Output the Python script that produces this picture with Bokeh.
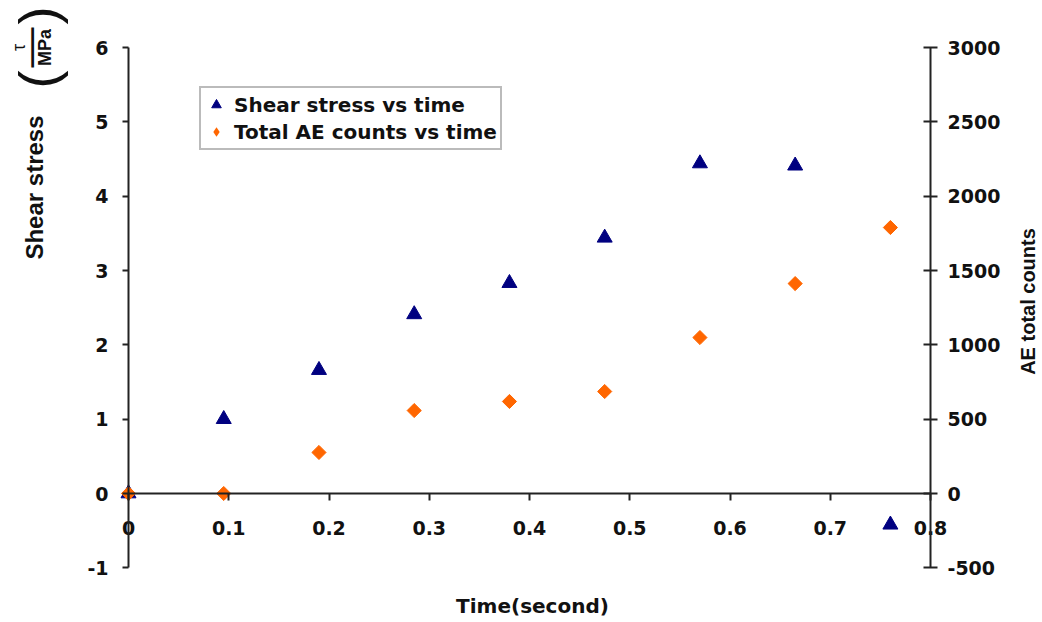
import math
from bokeh.plotting import figure
from bokeh.models import LinearAxis, Range1d, FixedTicker, Label, Legend, LegendItem
from bokeh.embed import file_html
from bokeh.resources import INLINE

# ---- data ----
time_s = [0, 0.095, 0.19, 0.285, 0.38, 0.475, 0.57, 0.665, 0.76]
shear_mpa = [0, 1.0, 1.66, 2.41, 2.83, 3.44, 4.44, 4.41, -0.42]
ae_counts = [0, 0, 276, 558, 619, 686, 1049, 1412, 1789]

x_ticks = [0, 0.1, 0.2, 0.3, 0.4, 0.5, 0.6, 0.7, 0.8]
x_tick_labels = ["0", "0.1", "0.2", "0.3", "0.4", "0.5", "0.6", "0.7", "0.8"]
left_ticks = [-1, 0, 1, 2, 3, 4, 5, 6]
left_tick_labels = ["-1", "0", "1", "2", "3", "4", "5", "6"]
right_ticks = [-500, 0, 500, 1000, 1500, 2000, 2500, 3000]
right_tick_labels = ["-500", "0", "500", "1000", "1500", "2000", "2500", "3000"]

series_names = ["Shear stress vs time", "Total AE counts vs time"]

NAVY = "#000080"
ORANGE = "#FF6600"
AXIS_COLOR = "#222222"
TEXT_COLOR = "#111111"
H_FONT = "DejaVu Sans"
V_FONT = "Liberation Sans"

# ---- layout: the plotting frame covers the whole canvas, axes are placed
# at fixed data locations inside it ----
W, H = 1040, 620
PX_X0, PX_X08 = 128.0, 930.0      # pixel of x=0 and x=0.8
PX_Y0, PX_Y6 = 493.0, 47.0        # pixel of y=0 and y=6
sx = (PX_X08 - PX_X0) / 0.8
sy = (PX_Y0 - PX_Y6) / 6.0
x_lo = -PX_X0 / sx
x_hi = (W - PX_X0) / sx
y_lo = -(H - PX_Y0) / sy
y_hi = PX_Y0 / sy
ae_per_unit = 500.0


def X(px):
    return (px - PX_X0) / sx


def Y(py):
    return (PX_Y0 - py) / sy


p = figure(width=W, height=H,
           x_range=Range1d(x_lo, x_hi), y_range=Range1d(y_lo, y_hi),
           x_axis_location=None, y_axis_location=None,
           min_border_left=0, min_border_right=0,
           min_border_top=0, min_border_bottom=0,
           output_backend="svg", toolbar_location=None)
p.extra_y_ranges = {"ae": Range1d(y_lo * ae_per_unit, y_hi * ae_per_unit)}
p.outline_line_color = None
p.background_fill_color = "white"
p.border_fill_color = "white"
for g in p.grid:
    g.visible = False


def style_axis(ax, tick_in, tick_out, standoff):
    ax.axis_line_color = AXIS_COLOR
    ax.axis_line_width = 2
    ax.major_tick_line_color = AXIS_COLOR
    ax.major_tick_line_width = 2
    ax.major_tick_in = tick_in
    ax.major_tick_out = tick_out
    ax.minor_tick_line_color = None
    ax.major_label_text_font = H_FONT
    ax.major_label_text_font_style = "bold"
    ax.major_label_text_font_size = "19px"
    ax.major_label_text_color = TEXT_COLOR
    ax.major_label_standoff = standoff


left_axis = LinearAxis(fixed_location=0, bounds=(-1, 6),
                       ticker=FixedTicker(ticks=left_ticks),
                       major_label_overrides=dict(zip(left_ticks, left_tick_labels)))
style_axis(left_axis, 0, 6, 14)
p.add_layout(left_axis, "left")

right_axis = LinearAxis(y_range_name="ae", fixed_location=0.8, bounds=(-500, 3000),
                        ticker=FixedTicker(ticks=right_ticks),
                        major_label_overrides=dict(zip(right_ticks, right_tick_labels)))
style_axis(right_axis, 7, 7, 10)
p.add_layout(right_axis, "right")

bottom_axis = LinearAxis(fixed_location=0, bounds=(0, 0.8),
                         ticker=FixedTicker(ticks=x_ticks),
                         major_label_overrides=dict(zip(x_ticks, x_tick_labels)))
style_axis(bottom_axis, 0, 7, 20)
p.add_layout(bottom_axis, "below")

r_shear = p.scatter(time_s, shear_mpa, marker="triangle", size=15,
                    fill_color=NAVY, line_color=NAVY)
r_ae = p.scatter(time_s, ae_counts, y_range_name="ae", marker="square",
                 angle=math.pi / 4, size=10, fill_color=ORANGE, line_color=ORANGE)
# legend swatch for the AE series (diamond key, as in the reference legend);
# zero-size markers so that it adds nothing to the plot itself
r_ae_key = p.scatter(time_s, ae_counts, y_range_name="ae", marker="diamond",
                     size=0, fill_color=ORANGE, line_color=None)

leg = Legend(items=[LegendItem(label=series_names[0], renderers=[r_shear]),
                    LegendItem(label=series_names[1], renderers=[r_ae_key])])
leg.location = (199, H - 150)
leg.label_text_font = H_FONT
leg.label_text_font_style = "bold"
leg.label_text_font_size = "20px"
leg.label_text_color = TEXT_COLOR
leg.label_height = 27
leg.glyph_height = 27
leg.glyph_width = 24
leg.label_standoff = 6
leg.padding = 3
leg.spacing = 0
leg.margin = 0
leg.border_line_color = "#777777"
leg.border_line_width = 2
leg.background_fill_alpha = 1.0
p.add_layout(leg)


def add_label(text, px, py, font, size, style="bold", angle=0.0):
    p.add_layout(Label(text=text, x=X(px), y=Y(py), angle=angle,
                       text_font=font, text_font_size=size,
                       text_font_style=style, text_color=TEXT_COLOR,
                       text_align="center", text_baseline="middle"))


# axis titles
add_label("Time(second)", 532, 605, H_FONT, "20px")
add_label("AE total counts", 1027, 301, V_FONT, "20px", angle=math.pi / 2)
add_label("Shear stress", 34, 187, V_FONT, "24px", angle=math.pi / 2)
# (tau / MPa) unit, written vertically
add_label("(", 37, 79, V_FONT, "54px", style="normal", angle=math.pi / 2)
add_label(")", 37, 15, V_FONT, "54px", style="normal", angle=math.pi / 2)
add_label("\u03c4", 18, 47, V_FONT, "18px", style="normal", angle=math.pi / 2)
add_label("\u2014", 28, 47, V_FONT, "40px", style="normal", angle=math.pi / 2)
add_label("MPa", 44, 47, V_FONT, "18px", angle=math.pi / 2)

open("out.html", "w").write(file_html(p, INLINE))
